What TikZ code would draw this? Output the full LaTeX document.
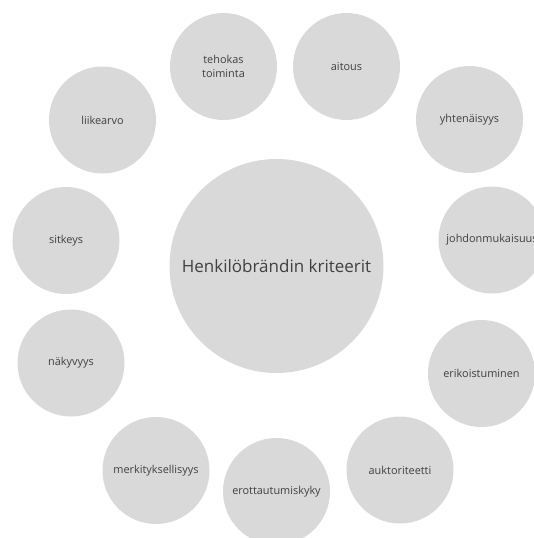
\documentclass[tikz,border=0pt]{standalone}
\usepackage{fontspec}
\setmainfont{Open Sans}
\definecolor{circfill}{HTML}{D9D9D9}
\definecolor{txt}{HTML}{404040}
\begin{document}
\begin{tikzpicture}[x=1pt,y=-1pt,
  outer/.style={circle,fill=circfill,minimum size=107pt,inner sep=0pt,text=txt,font=\fontsize{10.9}{13.5}\selectfont,align=center},
  hub/.style={circle,fill=circfill,minimum size=214pt,inner sep=0pt,text=txt,font=\fontsize{17}{20}\selectfont}]
\useasboundingbox (0,0) rectangle (534,538);
\begin{scope}
\clip (0,0) rectangle (534,538);
\node[hub] (c) at (276.5,266) {Henkilöbrändin kriteerit};
\node[outer] (n1) at (223.5,66.5) {tehokas\\toiminta};
\node[outer] (n2) at (346.5,66.5) {aitous};
\node[outer] (n3) at (469.5,119.5) {yhtenäisyys};
\node[outer] (n4) at (492,240) {johdonmukaisuus};
\node[outer] (n5) at (481.5,373.5) {erikoistuminen};
\node[outer] (n6) at (400,470) {auktoriteetti};
\node[outer] (n7) at (276.5,491.5) {erottautumiskyky};
\node[outer] (n8) at (156,470.5) {merkityksellisyys};
\node[outer] (n9) at (71,363) {näkyvyys};
\node[outer] (n10) at (66,240.5) {sitkeys};
\node[outer] (n11) at (102.5,120) {liikearvo};
\end{scope}
\end{tikzpicture}
\end{document}
